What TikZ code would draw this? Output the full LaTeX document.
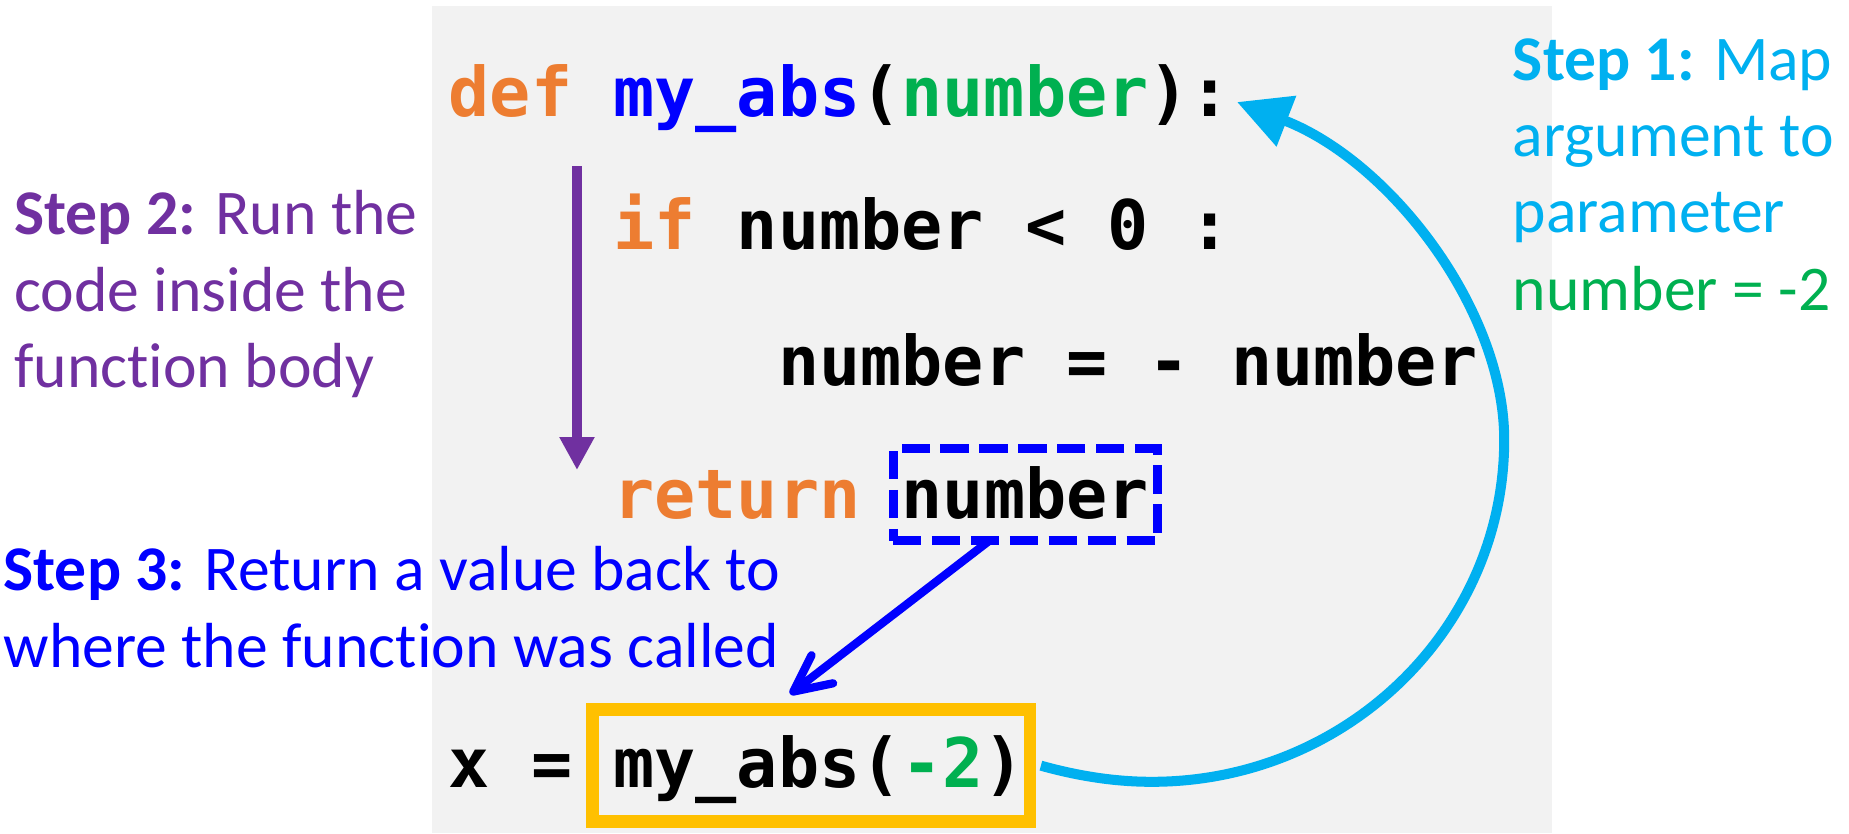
\documentclass[tikz,border=0pt]{standalone}
\usepackage{fontspec}
\usetikzlibrary{arrows.meta}
\newfontfamily\codefont{DejaVu Sans Mono}
\newfontfamily\lblfont{Carlito}[Ligatures={NoCommon,NoDiscretionary,NoContextual}]
\definecolor{kworange}{HTML}{ED7D31}
\definecolor{fnblue}{HTML}{0000FF}
\definecolor{argreen}{HTML}{00B050}
\definecolor{stpurple}{HTML}{7030A0}
\definecolor{stcyan}{HTML}{00B0F0}
\definecolor{boxgold}{HTML}{FFC000}
\definecolor{bggray}{HTML}{F2F2F2}
\begin{document}
\begin{tikzpicture}[x=1pt,y=1pt,
  code/.style={anchor=base west,inner sep=0pt,outer sep=0pt,font=\codefont\bfseries\fontsize{58}{70}\selectfont},
  lbl/.style={anchor=base west,inner sep=0pt,outer sep=0pt,font=\lblfont\fontsize{54}{65}\selectfont},
  frame/.style={draw,rectangle,inner sep=0pt,outer sep=0pt},
]
\useasboundingbox (0,0) rectangle (1568,707);
\fill[bggray] (366,1) rectangle (1316,702);
% boxes
\node[frame,draw=boxgold,line width=10.7pt,minimum width=371.2pt,minimum height=94.8pt] (callbox) at (688,57.7) {};
\node[frame,draw=fnblue,line width=7.6pt,dash pattern=on 24pt off 9pt,minimum width=224.2pt,minimum height=77.8pt] (retbox) at (869.4,287.4) {};
% code
\node[code] (l1) at (380.5,608) {\textcolor{kworange}{def} \textcolor{fnblue}{my\_abs}(\textcolor{argreen}{number}):};
\node[code] (l2) at (520.2,495) {\textcolor{kworange}{if} number < 0 :};
\node[code] (l3) at (659.9,380) {number = - number};
\node[code] (l4) at (520.2,267) {\textcolor{kworange}{return} number};
\node[code] (l5) at (380.5,39) {x = my\_abs(\textcolor{argreen}{-2})};
% labels
\node[lbl,text=stpurple] (s2a) at (12,508) {\textbf{Step 2:} Run the};
\node[lbl,text=stpurple] (s2b) at (12,443) {code inside the};
\node[lbl,text=stpurple] (s2c) at (12,378) {function body};
\node[lbl,text=fnblue] (s3a) at (3,206) {\textbf{Step 3:} Return a value back to};
\node[lbl,text=fnblue] (s3b) at (3,141) {where the function was called};
\node[lbl,text=stcyan] (s1a) at (1283,639) {\textbf{Step 1:} Map};
\node[lbl,text=stcyan] (s1b) at (1283,574) {argument to};
\node[lbl,text=stcyan] (s1c) at (1283,510) {parameter};
\node[lbl,text=argreen] (s1d) at (1283,444) {number = -2};
% arrows
\coordinate (ptop) at (489.3,566);
\coordinate (pend) at (489.3,308.4);
\draw[stpurple,line width=8.5pt,-{Triangle[length=28pt,width=28pt]}] (ptop) -- (pend);
\coordinate (b3tip) at (670,118.4);
\draw[fnblue,line width=7pt,-{Straight Barb[length=31pt,width=30pt,line cap=round,line join=round]}] (retbox.232.6) -- (b3tip);
\coordinate (c1tip) at (1049,620.5);
\draw[stcyan,line width=8.5pt,-{Triangle[length=45pt,width=44pt]}] ([xshift=9.1pt]callbox.east) .. controls (914,49) and (945,44) .. (976.8,44) .. controls (1141.7,44) and (1275.6,174) .. (1275.6,334) .. controls (1275.6,444) and (1179.5,569.8) .. (c1tip);
\end{tikzpicture}
\end{document}
